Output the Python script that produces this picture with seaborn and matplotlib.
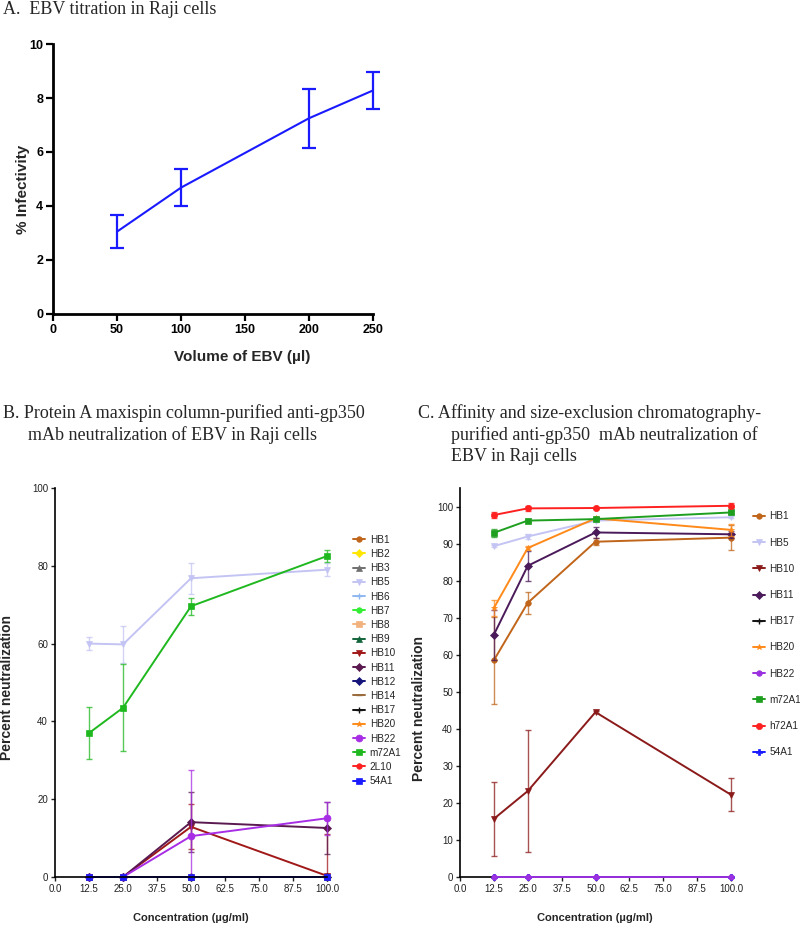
import numpy as np
import pandas as pd
import matplotlib
matplotlib.use("Agg")
import matplotlib.pyplot as plt
import seaborn as sns

# -------------------------
# Data
# -------------------------
# Panel A: EBV titration
ebv_volume = [50, 100, 200, 250]
infectivity = [3.05, 4.68, 7.25, 8.28]
infectivity_err = [0.62, 0.69, 1.10, 0.70]

concentration = [12.5, 25.0, 50.0, 100.0]
conc_ticks = [0.0, 12.5, 25.0, 37.5, 50.0, 62.5, 75.0, 87.5, 100.0]

# Panel B: Protein A purified mAbs
b_labels = ["HB1", "HB2", "HB3", "HB5", "HB6", "HB7", "HB8", "HB9", "HB10",
            "HB11", "HB12", "HB14", "HB17", "HB20", "HB22", "m72A1", "2L10", "54A1"]
b_zero = [0.0, 0.0, 0.0, 0.0]
b_hb5 = [60.0, 59.8, 76.8, 79.0]
b_hb5_err = [1.7, 4.8, 4.0, 1.7]
b_m72a1 = [37.0, 43.5, 69.6, 82.5]
b_m72a1_err = [6.6, 11.2, 2.2, 1.5]
b_hb10 = [0.0, 0.0, 12.9, 0.3]
b_hb10_err = [0.0, 0.0, 5.8, 10.8]
b_hb11 = [0.0, 0.0, 14.1, 12.6]
b_hb11_err = [0.0, 0.0, 7.8, 6.7]
b_hb22 = [0.0, 0.0, 10.5, 15.1]
b_hb22_err = [0.0, 0.0, 17.0, 4.2]

# Panel C: affinity + SEC purified mAbs
c_labels = ["HB1", "HB5", "HB10", "HB11", "HB17", "HB20", "HB22", "m72A1", "h72A1", "54A1"]
c_zero = [0.0, 0.0, 0.0, 0.0]
c_hb1 = [58.5, 74.0, 90.5, 91.6]
c_hb1_err = [11.8, 3.0, 1.0, 3.3]
c_hb5 = [89.3, 91.9, 96.2, 97.1]
c_hb5_err = [0.3, 0.8, 0.5, 0.3]
c_hb10 = [15.7, 23.2, 44.5, 22.2]
c_hb10_err = [9.9, 16.4, 0.3, 4.5]
c_hb11 = [65.4, 84.0, 93.0, 92.5]
c_hb11_err = [6.8, 4.0, 1.5, 1.0]
c_hb20 = [72.6, 88.8, 96.8, 93.7]
c_hb20_err = [2.2, 0.6, 0.5, 1.6]
c_m72a1 = [92.9, 96.2, 96.6, 98.4]
c_m72a1_err = [1.0, 0.4, 0.3, 0.5]
c_h72a1 = [97.7, 99.5, 99.6, 100.2]
c_h72a1_err = [0.8, 0.7, 0.3, 0.7]

b_values = {
    "HB5": (b_hb5, b_hb5_err), "HB10": (b_hb10, b_hb10_err),
    "HB11": (b_hb11, b_hb11_err), "HB22": (b_hb22, b_hb22_err),
    "m72A1": (b_m72a1, b_m72a1_err),
}
c_values = {
    "HB1": (c_hb1, c_hb1_err), "HB5": (c_hb5, c_hb5_err),
    "HB10": (c_hb10, c_hb10_err), "HB11": (c_hb11, c_hb11_err),
    "HB20": (c_hb20, c_hb20_err), "m72A1": (c_m72a1, c_m72a1_err),
    "h72A1": (c_h72a1, c_h72a1_err),
}

# -------------------------
# Styles
# -------------------------
COLORS = {
    "HB1": "#c0651a", "HB2": "#ffe600", "HB3": "#707070", "HB5": "#c4c4f4",
    "HB6": "#8fb8f0", "HB7": "#33ee33", "HB8": "#f2b27e", "HB9": "#12643a",
    "HB10": "#a01818", "HB11": "#5a1a50", "HB12": "#14147a", "HB14": "#9a6a3a",
    "HB17": "#111111", "HB20": "#ff8a1a", "HB22": "#a82ee6", "m72A1": "#1fb81f",
    "2L10": "#ff2020", "h72A1": "#ff2020", "54A1": "#1a1aff",
}
MARKERS = {
    "HB1": "o", "HB2": "D", "HB3": "^", "HB5": "v", "HB6": "+", "HB7": "o",
    "HB8": "s", "HB9": "^", "HB10": "v", "HB11": "D", "HB12": "D", "HB14": "_",
    "HB17": "+", "HB20": "*", "HB22": "o", "m72A1": "s", "2L10": "o",
    "h72A1": "o", "54A1": "s",
}
C_COLORS = dict(COLORS, HB11="#4a1a5a", HB10="#8b1a1a", m72A1="#1f9f1f", HB22="#9a30e0")
C_MARKERS = dict(MARKERS, **{"54A1": "P"})

sns.set_theme(style="ticks")
plt.rcParams["font.family"] = ["Liberation Sans", "DejaVu Sans"]
SERIF = ["Liberation Serif", "DejaVu Serif"]

W, H = 800, 927
fig = plt.figure(figsize=(W / 100, H / 100), dpi=100)


def px_axes(left, top, right, bottom):
    return fig.add_axes([left / W, 1 - bottom / H, (right - left) / W, (bottom - top) / H])


def fig_text(x, y, s, **kw):
    fig.text(x / W, 1 - y / H, s, va="center", ha="left", family=SERIF, fontsize=13, **kw)


# -------------------------
# Panel A
# -------------------------
axA = px_axes(53, 44, 373, 314)
dfA = pd.DataFrame({"volume": ebv_volume, "infect": infectivity})
sns.lineplot(data=dfA, x="volume", y="infect", ax=axA, color="#1a1aff", lw=1.5)
axA.errorbar(ebv_volume, infectivity, yerr=infectivity_err, fmt="none", ecolor="#1a1aff",
             elinewidth=1.6, capsize=5, capthick=1.6, clip_on=False)
axA.set_xlim(0, 250)
axA.set_ylim(0, 10)
axA.set_xticks(range(0, 251, 50))
axA.set_yticks(range(0, 11, 2))
for s in ["left", "bottom"]:
    axA.spines[s].set_linewidth(2)
    axA.spines[s].set_color("black")
sns.despine(ax=axA)
axA.tick_params(direction="out", length=5, width=1.6, labelsize=9, pad=2, colors="black")
for lab in axA.get_xticklabels() + axA.get_yticklabels():
    lab.set_fontweight("bold")
axA.set_xlabel("Volume of EBV (µl)", fontsize=11, fontweight="bold")
axA.set_ylabel("% Infectivity", fontsize=11, fontweight="bold")
axA.xaxis.set_label_coords(0.59, -0.135)
axA.yaxis.set_label_coords(-0.072, 0.46)
fig_text(3, 9, "A.  EBV titration in Raji cells")


# -------------------------
# Panels B and C
# -------------------------
def draw_panel(ax, labels, values, zero, colors, markers, msize, zorders):
    for name in labels:
        mean, err = values.get(name, (zero, None))
        df = pd.DataFrame({"conc": concentration, "pct": mean})
        sns.lineplot(data=df, x="conc", y="pct", ax=ax, color=colors[name],
                     marker=markers[name], markersize=msize.get(name, 4),
                     markeredgewidth=1 if markers[name] in "+_" else 0.5,
                     markeredgecolor=colors[name], lw=1.4, label=name, clip_on=False,
                     zorder=zorders.get(name, 2))
        if err is not None:
            m = np.array(mean)
            e = np.array(err)
            ax.errorbar(concentration, mean, yerr=[np.minimum(e, m), e], fmt="none",
                        ecolor=colors[name], alpha=0.75, elinewidth=1, capsize=2,
                        capthick=1, clip_on=False)
    ax.set_xlim(0, 100)
    ax.set_xticks(conc_ticks)
    ax.set_xticklabels([f"{t:.1f}" for t in conc_ticks])
    sns.despine(ax=ax)
    for s in ["left", "bottom"]:
        ax.spines[s].set_linewidth(1.2)
        ax.spines[s].set_color("black")
    ax.tick_params(direction="out", length=3, width=1, labelsize=7, pad=2, colors="#222222")
    ax.set_xlabel("Concentration (µg/ml)", fontsize=8, fontweight="bold")
    ax.set_ylabel("Percent neutralization", fontsize=10, fontweight="bold")


axB = px_axes(55, 488, 327, 877)
draw_panel(axB, b_labels, b_values, b_zero, COLORS, MARKERS,
           {"m72A1": 5, "54A1": 5, "HB22": 5, "HB5": 4}, {})
axB.set_ylim(0, 100)
axB.set_yticks(range(0, 101, 20))
axB.xaxis.set_label_coords(0.5, -0.093)
axB.yaxis.set_label_coords(-0.15, 0.488)
axB.legend(loc="upper left", bbox_to_anchor=(1.08, 0.89), frameon=False, fontsize=7.2,
           labelspacing=0.42, handlelength=1.2, handletextpad=0.5, borderaxespad=0)
fig_text(3, 413, "B. Protein A maxispin column-purified anti-gp350")
fig_text(28, 435, "mAb neutralization of EBV in Raji cells")

axC = px_axes(460, 488, 731, 877)
draw_panel(axC, c_labels, c_values, c_zero, C_COLORS, C_MARKERS,
           {"m72A1": 4.5, "h72A1": 4.5, "HB22": 4, "54A1": 4}, {"HB22": 3})
axC.set_ylim(0, 105)
axC.set_yticks(range(0, 101, 10))
axC.xaxis.set_label_coords(0.498, -0.093)
axC.yaxis.set_label_coords(-0.125, 0.434)
axC.legend(loc="upper left", bbox_to_anchor=(1.065, 0.95), frameon=False, fontsize=7.2,
           labelspacing=1.62, handlelength=1.2, handletextpad=0.5, borderaxespad=0)
fig_text(418, 413, "C. Affinity and size-exclusion chromatography-")
fig_text(451, 435, "purified anti-gp350  mAb neutralization of")
fig_text(451, 457, "EBV in Raji cells")

fig.savefig("out.png", dpi=100)
